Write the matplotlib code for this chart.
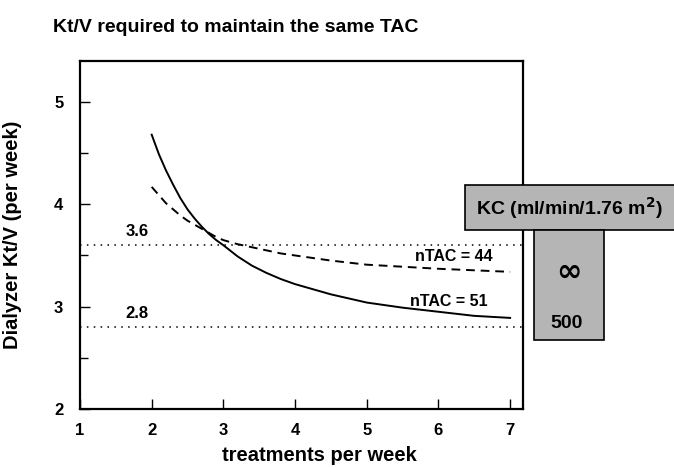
import matplotlib
matplotlib.use("Agg")
import matplotlib.pyplot as plt
from matplotlib.patches import Rectangle
from matplotlib.ticker import MultipleLocator

plt.rcParams['font.family'] = ['Liberation Sans', 'DejaVu Sans']
plt.rcParams['font.weight'] = 'bold'

# data
treat = [2, 2.1, 2.2, 2.3, 2.4, 2.5, 2.6, 2.7, 2.8, 2.9, 3.0, 3.2, 3.4, 3.6, 3.8, 4.0,
         4.5, 5.0, 5.5, 6.0, 6.5, 7.0]
ntac51 = [4.68, 4.49, 4.33, 4.19, 4.06, 3.95, 3.86, 3.78, 3.71, 3.65, 3.60, 3.49, 3.40,
          3.33, 3.27, 3.22, 3.12, 3.04, 2.99, 2.95, 2.91, 2.89]
ntac44 = [4.17, 4.09, 4.01, 3.95, 3.89, 3.84, 3.80, 3.76, 3.72, 3.68, 3.65, 3.61, 3.58,
          3.55, 3.52, 3.50, 3.45, 3.41, 3.39, 3.37, 3.355, 3.34]
ref_levels = [3.6, 2.8]
xticks = [1, 2, 3, 4, 5, 6, 7]
yticks = [2, 3, 4, 5]

fig = plt.figure(figsize=(6.74, 4.67), dpi=100)
ax = fig.add_axes([0.1187, 0.1242, 0.776 - 0.1187, 0.8694 - 0.1242])

ax.plot(treat, ntac51, color="black", lw=1.4)
ax.plot(treat, ntac44, color="black", lw=1.4, ls=(0, (4.5, 3)))
for lv in ref_levels:
  ax.axhline(lv, color="black", lw=1.1, ls=(0, (1, 3.5)))
  ax.text(1.8, lv + 0.06, str(lv), fontsize=12, fontweight="bold", ha="center", va="bottom")

ax.text(5.68, 3.49, "nTAC = 44", fontsize=11.5, fontweight="bold", ha="left", va="center")
ax.text(5.61, 3.05, "nTAC = 51", fontsize=11.5, fontweight="bold", ha="left", va="center")

ax.set_xlim(1, 7.18)
ax.set_ylim(2, 5.4)
ax.set_xticks(xticks)
ax.set_yticks(yticks)
ax.yaxis.set_minor_locator(MultipleLocator(0.5))
ax.tick_params(which="both", direction="in", width=1, labelsize=12)
ax.tick_params(which="major", length=7)
ax.tick_params(which="minor", length=6)
ax.tick_params(axis="x", pad=10)
ax.tick_params(axis="y", pad=12)
for lab in ax.get_xticklabels() + ax.get_yticklabels():
  lab.set_fontweight("bold")
for s in ax.spines.values():
  s.set_linewidth(1.6)

ax.set_xlabel("treatments per week", fontsize=14.5, fontweight="bold")
ax.xaxis.set_label_coords(0.54, -0.105)
ax.set_ylabel("Dialyzer Kt/V (per week)", fontsize=14.5, fontweight="bold")
ax.yaxis.set_label_coords(-0.13, 0.5)

fig.text(53 / 674, 1 - 27 / 467, "Kt/V required to maintain the same TAC",
         fontsize=14, fontweight="bold", ha="left", va="center")

# KC legend boxes
W, H = 674.0, 467.0
gray = "#b5b5b5"
fig.patches.append(Rectangle((465 / W, 1 - 230 / H), 215 / W, 45 / H, transform=fig.transFigure,
                             facecolor=gray, edgecolor="black", lw=1.2, zorder=5))
fig.patches.append(Rectangle((534 / W, 1 - 340 / H), 70 / W, 110 / H, transform=fig.transFigure,
                             facecolor=gray, edgecolor="black", lw=1.2, zorder=5))
fig.text(569 / W, 1 - 208 / H, "KC (ml/min/1.76 m$^\\mathbf{2}$)", fontsize=14, fontweight="bold",
         ha="center", va="center", zorder=6)
fig.text(569 / W, 1 - 272 / H, "\u221e", fontsize=22, ha="center", va="center", zorder=6,
         family=['DejaVu Sans'])
fig.text(567 / W, 1 - 323 / H, "500", fontsize=14, fontweight="bold", ha="center", va="center", zorder=6)

fig.savefig("out.png", dpi=100)
